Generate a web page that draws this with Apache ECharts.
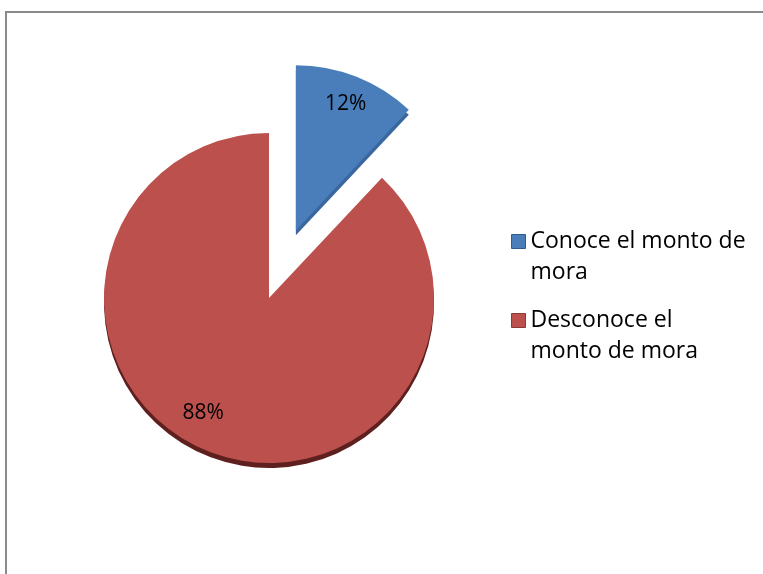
<!DOCTYPE html>
<html>
<head>
<meta charset="utf-8">
<script src="https://cdn.jsdelivr.net/npm/echarts@6/dist/echarts.min.js"></script>
<style>
  html, body { margin: 0; padding: 0; background: #fff; overflow: hidden; }
  #frame {
    position: absolute; left: 5px; top: 11px;
    width: 770px; height: 580px;
    border-left: 2px solid #8a8a8a; border-top: 2px solid #8a8a8a;
    background: #fff;
  }
  #chart { width: 770px; height: 580px; }
</style>
</head>
<body>
<div id="frame"><div id="chart"></div></div>
<script>
// Categories and their shares (percent)
const categories = ['Conoce el monto de mora', 'Desconoce el monto de mora'];
const shares = [12, 88];
// Legend text split into display lines
const legendLines = [['Conoce el monto de', 'mora'], ['Desconoce el', 'monto de mora']];

const topColors = ['#4A7EBB', '#BC504D'];
const sideColors = ['#3A679E', '#5E201E'];
const borderColors = ['#2F5B8F', '#8C3836'];

const FONT = '"Open Sans", Lato, sans-serif';
const center = [262, 285];
const radius = 165;
const depth = 5;
const explode = 73;

const base = {
  type: 'pie',
  startAngle: 90,
  clockwise: true,
  selectedMode: 'single',
  selectedOffset: explode,
  animation: false,
  silent: true,
  label: { show: false },
  labelLine: { show: false },
  emphasis: { disabled: true }
};

function slices(colors) {
  return categories.map((name, i) => ({
    name: name,
    value: shares[i],
    selected: i === 0,
    itemStyle: { color: colors[i] }
  }));
}

const chart = echarts.init(document.getElementById('chart'), null, { renderer: 'canvas' });
chart.setOption({
  backgroundColor: '#fff',
  legend: {
    orient: 'vertical',
    left: 499,
    top: 177,
    itemWidth: 14,
    itemHeight: 14,
    itemGap: -14,
    icon: 'rect',
    selectedMode: false,
    data: categories.map((name, i) => ({
      name: name,
      itemStyle: { color: topColors[i], borderColor: borderColors[i], borderWidth: 1 }
    })),
    // leading empty line keeps the marker level with the first text line
    formatter: name => '\n' + legendLines[categories.indexOf(name)].join('\n'),
    textStyle: {
      fontFamily: FONT,
      fontSize: 23,
      color: '#000',
      lineHeight: 31
    }
  },
  series: [
    // top face of the pie
    Object.assign({}, base, {
      name: 'top',
      z: 3,
      center: center,
      radius: [0, radius],
      data: slices(topColors)
    }),
    // darker copy shifted down to give the pie some thickness
    Object.assign({}, base, {
      name: 'side',
      z: 2,
      center: [center[0], center[1] + depth],
      radius: [0, radius],
      data: slices(sideColors)
    }),
    // percentage labels
    Object.assign({}, base, {
      name: 'labels',
      z: 4,
      center: center,
      radius: [100, radius],
      data: categories.map((name, i) => ({
        name: name,
        value: shares[i],
        selected: i === 0,
        itemStyle: { color: 'rgba(0,0,0,0)' },
        label: i === 1 ? { padding: [0, 32, 0, 0] } : {}
      })),
      label: {
        show: true,
        position: 'inside',
        // the large slice's label sits a little higher, so it gets a blank second line
        formatter: p => p.value + '%' + (p.dataIndex === 1 ? '\n ' : ''),
        fontFamily: FONT,
        fontSize: 21,
        lineHeight: 22,
        color: '#000'
      }
    })
  ]
});
</script>
</body>
</html>
